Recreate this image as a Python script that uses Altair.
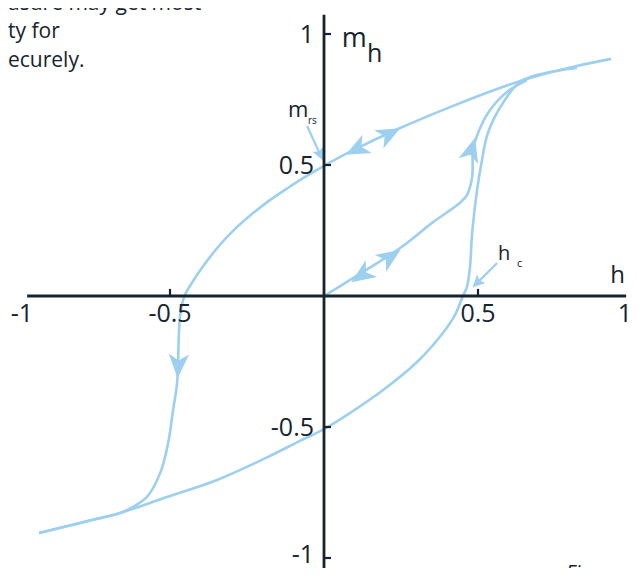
import altair as alt
import pandas as pd

# ---------------- data ----------------
# descending (upper) branch of the major loop, from positive saturation
upper_h = [0.932, 0.821, 0.679, 0.571, 0.409, 0.247, 0.084, 0.0, -0.068, -0.123,
           -0.179, -0.234, -0.289, -0.344, -0.399, -0.429, -0.453, -0.466, -0.471,
           -0.477, -0.490, -0.506, -0.532, -0.575, -0.620, -0.662, -0.792, -0.925]
upper_m = [0.905, 0.878, 0.836, 0.794, 0.721, 0.641, 0.550, 0.497, 0.450, 0.408,
           0.363, 0.313, 0.256, 0.187, 0.103, 0.050, 0.0, -0.065, -0.141,
           -0.332, -0.435, -0.561, -0.676, -0.767, -0.805, -0.828, -0.866, -0.905]

# ascending (lower) branch of the major loop
lower_h = [-0.925, -0.792, -0.727, -0.662, -0.510, -0.347, -0.185, -0.078, 0.0, 0.084,
           0.192, 0.302, 0.386, 0.425, 0.451, 0.464, 0.474, 0.481, 0.497, 0.513,
           0.532, 0.581, 0.646, 0.821]
lower_m = [-0.905, -0.866, -0.847, -0.828, -0.767, -0.702, -0.616, -0.553, -0.508, -0.447,
           -0.359, -0.252, -0.141, -0.073, 0.0, 0.034, 0.111, 0.240, 0.405, 0.519,
           0.622, 0.737, 0.824, 0.870]

# initial magnetisation curve from the origin
initial_h = [0.0, 0.084, 0.247, 0.354, 0.432, 0.464, 0.481, 0.484, 0.500, 0.539, 0.594, 0.659]
initial_m = [0.0, 0.061, 0.183, 0.282, 0.347, 0.385, 0.454, 0.557, 0.622, 0.710, 0.779, 0.824]

# direction arrows sitting on the curves
arrow_h = [0.107, 0.211, 0.123, 0.214, 0.479, -0.473]
arrow_m = [0.561, 0.618, 0.080, 0.149, 0.557, -0.265]
arrow_angle = [243, 63, 236, 56, 16, 183]

# axis ticks
x_ticks = [-0.5, 0.5]
x_tick_labels = ["-0.5", "0.5"]
x_end_ticks = [-1, 1]
x_end_labels = ["-1", "1"]
y_ticks = [1, 0.5, -0.5, -1]
y_tick_labels = ["1", "0.5", "-0.5", "-1"]

# ---------------- styling ----------------
BLUE = "#9dcff0"
DARK = "#16242e"
FONT = "Open Sans"
W, H = 624, 560
X_DOM = [-316 / 308, (W - 316) / 308]
Y_DOM = [-(H - 288) / 262, 288 / 262]
xs = alt.Scale(domain=X_DOM, nice=False, zero=False)
ys = alt.Scale(domain=Y_DOM, nice=False, zero=False)


def X(f="h"):
    return alt.X(f + ":Q", scale=xs, axis=None)


def Y(f="m"):
    return alt.Y(f + ":Q", scale=ys, axis=None)


rows = []
for name, hs, ms in [("upper", upper_h, upper_m), ("lower", lower_h, lower_m),
                     ("initial", initial_h, initial_m)]:
    for i, (h, m) in enumerate(zip(hs, ms)):
        rows.append({"curve": name, "i": i, "h": h, "m": m})
curves = pd.DataFrame(rows)

lines = alt.Chart(curves).mark_line(
    interpolate="catmull-rom", strokeWidth=2.6, color=BLUE, clip=True
).encode(x=X(), y=Y(), detail="curve:N", order="i:Q")

DART = "M0,-1L0.8,0.9L0,0.38L-0.8,0.9Z"
arrows = alt.Chart(pd.DataFrame({"h": arrow_h, "m": arrow_m, "a": arrow_angle})).mark_point(
    shape=DART, filled=True, size=650, color=BLUE, opacity=1, clip=True
).encode(x=X(), y=Y(), angle=alt.Angle("a:Q", scale=None))

# pointer arrows for m_rs and h_c
pointers = pd.DataFrame({
    "h": [-0.055, 0.562], "m": [0.649, 0.126],
    "h2": [-0.013, 0.500], "m2": [0.542, 0.053],
})
pointer_lines = alt.Chart(pointers).mark_rule(color=BLUE, strokeWidth=2.2, clip=True).encode(
    x=X(), y=Y(), x2=alt.X2("h2:Q"), y2=alt.Y2("m2:Q"))
pointer_heads = alt.Chart(pd.DataFrame({"h": [-0.012, 0.497], "m": [0.540, 0.050], "a": [155, 225]})).mark_point(
    shape="M0,-1L0.9,0.9L0,0.5L-0.9,0.9Z", filled=True, size=170, color=BLUE, opacity=1, clip=True
).encode(x=X(), y=Y(), angle=alt.Angle("a:Q", scale=None))

# axes drawn through the origin
x_axis = alt.Chart(pd.DataFrame({"h": [-0.964], "h2": [0.981], "m": [0.0]})).mark_rule(
    color=DARK, strokeWidth=2.8, clip=True).encode(x=X(), x2=alt.X2("h2:Q"), y=Y())
y_axis = alt.Chart(pd.DataFrame({"h": [0.0], "m": [1.073], "m2": [-1.06]})).mark_rule(
    color=DARK, strokeWidth=2.8, clip=True).encode(x=X(), y=Y(), y2=alt.Y2("m2:Q"))
x_tick_rules = alt.Chart(pd.DataFrame({"h": x_ticks, "m": [0.0] * 2, "m2": [0.027] * 2})).mark_rule(
    color=DARK, strokeWidth=2.2, clip=True).encode(x=X(), y=Y(), y2=alt.Y2("m2:Q"))
y_tick_rules = alt.Chart(pd.DataFrame({"h": [0.0] * 4, "h2": [0.0227] * 4, "m": y_ticks})).mark_rule(
    color=DARK, strokeWidth=2.2, clip=True).encode(x=X(), x2=alt.X2("h2:Q"), y=Y())

label_style = dict(baseline="middle", fontSize=25, font=FONT, fontWeight=500, color=DARK)
x_labels = alt.Chart(pd.DataFrame({"h": x_ticks, "m": [0.0] * 2, "t": x_tick_labels})).mark_text(
    align="center", dy=18, **label_style
).encode(x=X(), y=Y(), text="t:N")
x_label_lo = alt.Chart(pd.DataFrame({"h": x_end_ticks[:1], "m": [0.0], "t": x_end_labels[:1]})).mark_text(
    align="center", dy=18, dx=6, **label_style
).encode(x=X(), y=Y(), text="t:N")
x_label_hi = alt.Chart(pd.DataFrame({"h": x_end_ticks[1:], "m": [0.0], "t": x_end_labels[1:]})).mark_text(
    align="center", dy=18, dx=-7, **label_style
).encode(x=X(), y=Y(), text="t:N")
y_labels = alt.Chart(pd.DataFrame({"h": [0.0] * 3, "m": y_ticks[:3], "t": y_tick_labels[:3]})).mark_text(
    align="right", dx=-10, dy=1, **label_style
).encode(x=X(), y=Y(), text="t:N")
y_label_lo = alt.Chart(pd.DataFrame({"h": [0.0], "m": y_ticks[3:], "t": y_tick_labels[3:]})).mark_text(
    align="right", dx=-10, dy=-3, **label_style
).encode(x=X(), y=Y(), text="t:N")

# axis titles and annotation labels (with subscripts)
ann = pd.DataFrame({
    "t": ["m", "h", "h", "m", "rs", "h", "c"],
    "h": [0.058, 0.140, 0.929, -0.117, -0.052, 0.565, 0.627],
    "m": [0.950, 0.893, 0.050, 0.683, 0.656, 0.137, 0.111],
    "fs": [27, 25, 24, 22, 10, 20, 11],
})
ann_text = alt.Chart(ann).mark_text(
    align="left", baseline="alphabetic", font=FONT, fontWeight=500, color=DARK, clip=True
).encode(x=X(), y=Y(), text="t:N", size=alt.Size("fs:Q", scale=None))

# fragments of surrounding page text visible in the crop
para = pd.DataFrame({
    "t": ["asure may get most", "ty for", "ecurely."],
    "h": [X_DOM[0]] * 3,
    "m": [1.0935, 0.9847, 0.874],
})
para_text = alt.Chart(para).mark_text(
    align="left", baseline="alphabetic", font=FONT, fontSize=21, color=DARK, clip=True
).encode(x=X(), y=Y(), text="t:N")
fig_text = alt.Chart(pd.DataFrame({"t": ["Figure"], "h": [0.785], "m": [-1.02]})).mark_text(
    align="left", baseline="top", font=FONT, fontSize=20, fontStyle="italic", color=DARK, clip=True
).encode(x=X(), y=Y(), text="t:N")

chart = alt.layer(
    para_text, fig_text, lines, arrows, pointer_lines, pointer_heads,
    x_axis, y_axis, x_tick_rules, y_tick_rules,
    x_labels, x_label_lo, x_label_hi, y_labels, y_label_lo, ann_text
).properties(width=W, height=H, padding=0, autosize="none").configure_view(stroke=None)

chart.save("out.html", embed_options={"renderer": "svg", "actions": False})
